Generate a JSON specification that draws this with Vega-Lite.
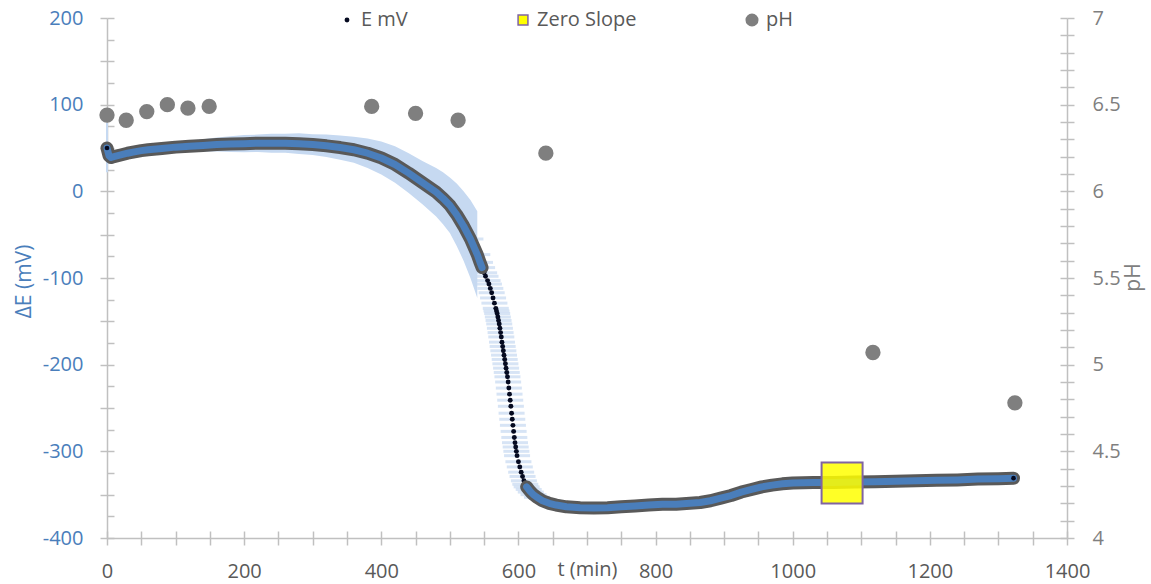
{
"$schema":"https://vega.github.io/schema/vega-lite/v6.json",
"width":960,"height":520,
"autosize":{"type":"none"},
"padding":{"left":107,"top":18,"right":84,"bottom":46},
"background":"white",
"config":{
 "font":"Open Sans",
 "view":{"stroke":null},
 "axis":{"grid":false,"domainColor":"#c0c0c0","domainWidth":1.5,"tickColor":"#c0c0c0","tickWidth":1.5,"tickSize":7,"labelFont":"Open Sans","labelFontSize":20,"titleFont":"Open Sans","titleFontSize":20,"titleFontWeight":"normal","labelOverlap":false,"labelFlush":false,"labelBound":false}
},
"datasets":{
 "e":[
  {"t":0,"e":50,"lo":44,"hi":56,"barlo":22,"barhi":79},
  {"t":3,"e":41,"lo":35,"hi":47},
  {"t":6,"e":39,"lo":33,"hi":45},
  {"t":10,"e":40,"lo":34,"hi":46},
  {"t":20,"e":42,"lo":36,"hi":48},
  {"t":30,"e":44,"lo":38,"hi":50},
  {"t":40,"e":45.5,"lo":39.5,"hi":51.5},
  {"t":50,"e":47,"lo":41,"hi":53},
  {"t":60,"e":48,"lo":42,"hi":54},
  {"t":80,"e":49.5,"lo":43.5,"hi":55.5},
  {"t":100,"e":51,"lo":45,"hi":57},
  {"t":120,"e":52,"lo":45.5,"hi":58.5},
  {"t":140,"e":53,"lo":46,"hi":60},
  {"t":160,"e":54,"lo":46,"hi":62},
  {"t":180,"e":54.5,"lo":45.5,"hi":63.5},
  {"t":200,"e":55,"lo":45,"hi":65},
  {"t":220,"e":55.5,"lo":45.5,"hi":65.5},
  {"t":240,"e":55.5,"lo":44.5,"hi":66.5},
  {"t":260,"e":55.5,"lo":44.5,"hi":66.5},
  {"t":280,"e":55,"lo":43,"hi":67},
  {"t":300,"e":54,"lo":42,"hi":66},
  {"t":320,"e":52.5,"lo":39.5,"hi":65.5},
  {"t":340,"e":50.5,"lo":36.5,"hi":64.5},
  {"t":360,"e":48,"lo":33,"hi":63},
  {"t":380,"e":44,"lo":27,"hi":61},
  {"t":400,"e":38.5,"lo":19.5,"hi":57.5},
  {"t":420,"e":31,"lo":10,"hi":52},
  {"t":440,"e":21,"lo":-2,"hi":44},
  {"t":460,"e":10,"lo":-15,"hi":35},
  {"t":480,"e":-1,"lo":-29,"hi":27},
  {"t":490,"e":-8,"lo":-38,"hi":22},
  {"t":500,"e":-16,"lo":-48,"hi":16},
  {"t":510,"e":-27,"lo":-63,"hi":9},
  {"t":520,"e":-40,"lo":-80,"hi":0},
  {"t":530,"e":-55,"lo":-100,"hi":-10},
  {"t":540,"e":-73,"lo":-123,"hi":-23},
  {"t":544,"e":-82},{"t":547,"e":-88},{"t":550,"e":-94},{"t":552,"e":-98},{"t":555,"e":-103},
  {"t":557,"e":-107},{"t":559,"e":-112},{"t":561,"e":-117},{"t":563,"e":-123},{"t":565,"e":-129},
  {"t":567,"e":-135},{"t":568,"e":-138},{"t":569,"e":-141},{"t":570,"e":-145},{"t":571,"e":-149},
  {"t":572,"e":-153},{"t":573,"e":-158},{"t":574,"e":-163},{"t":575,"e":-168},{"t":576,"e":-174},
  {"t":577,"e":-179},{"t":578,"e":-184},{"t":579,"e":-189},{"t":580,"e":-194},{"t":581,"e":-199},
  {"t":582,"e":-204},{"t":583,"e":-209},{"t":584,"e":-214},{"t":585,"e":-220},{"t":586,"e":-227},
  {"t":587,"e":-234},{"t":588,"e":-241},{"t":589,"e":-248},{"t":590,"e":-256},{"t":591,"e":-263},
  {"t":592,"e":-270},{"t":593,"e":-277},{"t":594,"e":-284},{"t":595,"e":-290},{"t":596,"e":-295},
  {"t":597,"e":-300},{"t":598,"e":-305},{"t":600,"e":-312},{"t":602,"e":-318},{"t":604,"e":-324},
  {"t":606,"e":-329},{"t":608,"e":-334},{"t":610,"e":-338},{"t":612,"e":-341},{"t":615,"e":-344},
  {"t":618,"e":-347},{"t":622,"e":-350},{"t":627,"e":-353},{"t":635,"e":-357},{"t":645,"e":-360},
  {"t":655,"e":-362},{"t":670,"e":-364},{"t":690,"e":-365},{"t":710,"e":-365.5},{"t":730,"e":-365},
  {"t":750,"e":-364},{"t":770,"e":-363},{"t":790,"e":-362},{"t":810,"e":-361},{"t":830,"e":-361},
  {"t":850,"e":-360},{"t":865,"e":-359},{"t":880,"e":-357},{"t":895,"e":-354},{"t":910,"e":-351},
  {"t":925,"e":-347},{"t":940,"e":-344},{"t":955,"e":-341},{"t":970,"e":-339},{"t":985,"e":-337.5},
  {"t":1000,"e":-336.5},{"t":1030,"e":-336},{"t":1060,"e":-336},{"t":1090,"e":-335.5},{"t":1120,"e":-335},
  {"t":1150,"e":-334.5},{"t":1180,"e":-334},{"t":1210,"e":-333.5},{"t":1240,"e":-333},{"t":1270,"e":-332},
  {"t":1300,"e":-331.5},{"t":1322,"e":-331}
 ],
 "ph":[
  {"t":0,"ph":6.44},{"t":28,"ph":6.41},{"t":58,"ph":6.46},{"t":88,"ph":6.5},{"t":118,"ph":6.48},
  {"t":149,"ph":6.49},{"t":386,"ph":6.49},{"t":450,"ph":6.45},{"t":512,"ph":6.41},{"t":640,"ph":6.22},
  {"t":1117,"ph":5.07},{"t":1324,"ph":4.78}
 ],
 "zs":[{"t":1072,"e":-336.5}]
},
"layer":[
 {
  "data":{"name":"e"},
  "encoding":{"x":{"field":"t","type":"quantitative","title":"t (min)","scale":{"domain":[0,1400],"nice":false,"zero":false},
    "axis":{"orient":"bottom","values":[0,50,100,150,200,250,300,350,400,450,500,550,600,650,700,750,800,850,900,950,1000,1050,1100,1150,1200,1250,1300,1350,1400],
      "labelExpr":"datum.value % 200 === 0 ? '' + datum.value : ''","labelColor":"#595959","labelPadding":16,
      "titleColor":"#595959","titleX":480,"titleY":31,"titleAlign":"center","titleBaseline":"middle"}}},
  "layer":[
   {"transform":[{"filter":"datum.t <= 540"}],"mark":{"type":"area","color":"#c6d9f1"},
    "encoding":{"y":{"field":"lo","type":"quantitative","title":"ΔE  (mV)","scale":{"domain":[-400,200],"nice":false,"zero":false},
      "axis":{"orient":"left","values":[-400,-375,-350,-325,-300,-275,-250,-225,-200,-175,-150,-125,-100,-75,-50,-25,0,25,50,75,100,125,150,175,200],
        "labelExpr":"datum.value % 100 === 0 ? '' + datum.value : ''","labelColor":"#4a7ebb","labelPadding":17,
        "titleColor":"#4a7ebb","titleFontSize":21,"titleAngle":270,"titleX":-83,"titleY":263,"titleAlign":"center","titleBaseline":"middle"}},
     "y2":{"field":"hi"}}},
   {"transform":[{"filter":"datum.t == 0"}],"mark":{"type":"rule","color":"#c6d9f1","strokeWidth":2},
    "encoding":{"y":{"field":"barlo","type":"quantitative","title":"ΔE  (mV)"},"y2":{"field":"barhi"}}},
   {"transform":[{"filter":"datum.t >= 528 && datum.t <= 627"}],"mark":{"type":"tick","orient":"horizontal","color":"#c6d9f1","size":26,"thickness":3},
    "encoding":{"y":{"field":"e","type":"quantitative","title":"ΔE  (mV)"}}},
   {"mark":{"type":"point","filled":true,"opacity":1,"strokeWidth":1.5},
    "encoding":{"y":{"field":"e","type":"quantitative","title":"ΔE  (mV)"},
     "color":{"datum":"E mV","type":"nominal","scale":{"domain":["E mV","Zero Slope","pH"],"range":["#050a20","#ffff00","#7f7f7f"]},
      "legend":{"title":null,"orient":"none","legendX":230,"legendY":-8,"direction":"horizontal","columnPadding":105,"padding":0,
        "labelFont":"Open Sans","labelFontSize":20,"labelColor":"#595959","labelOffset":4,"symbolStrokeWidth":1.5,"symbolOpacity":1}},
     "shape":{"datum":"E mV","type":"nominal","scale":{"domain":["E mV","Zero Slope","pH"],"range":["circle","square","circle"]},"legend":{"title":null}},
     "size":{"datum":"E mV","type":"nominal","scale":{"domain":["E mV","Zero Slope","pH"],"range":[24,170,150]},"legend":{"title":null}},
     "stroke":{"datum":"E mV","type":"nominal","scale":{"domain":["E mV","Zero Slope","pH"],"range":["transparent","#8064a2","transparent"]},"legend":{"title":null}}}},
   {"transform":[{"filter":"datum.t <= 548"}],"mark":{"type":"line","color":"#595959","strokeWidth":13,"strokeCap":"round","strokeJoin":"round"},
    "encoding":{"y":{"field":"e","type":"quantitative","title":"ΔE  (mV)"}}},
   {"transform":[{"filter":"datum.t >= 612"}],"mark":{"type":"line","color":"#595959","strokeWidth":13,"strokeCap":"round","strokeJoin":"round"},
    "encoding":{"y":{"field":"e","type":"quantitative","title":"ΔE  (mV)"}}},
   {"transform":[{"filter":"datum.t <= 548"}],"mark":{"type":"line","color":"#4a7ebb","strokeWidth":7,"strokeCap":"round","strokeJoin":"round"},
    "encoding":{"y":{"field":"e","type":"quantitative","title":"ΔE  (mV)"}}},
   {"transform":[{"filter":"datum.t >= 612"}],"mark":{"type":"line","color":"#4a7ebb","strokeWidth":7,"strokeCap":"round","strokeJoin":"round"},
    "encoding":{"y":{"field":"e","type":"quantitative","title":"ΔE  (mV)"}}},
   {"transform":[{"filter":"datum.t == 0 || datum.t == 1322"}],"mark":{"type":"point","shape":"circle","filled":true,"size":22,"opacity":1,"color":"#050a20"},
    "encoding":{"y":{"field":"e","type":"quantitative","title":"ΔE  (mV)"}}},
   {"data":{"name":"zs"},"mark":{"type":"point","shape":"square","filled":true,"size":1681,"opacity":1,"fill":"#ffff00","fillOpacity":0.85,"stroke":"#8064a2","strokeWidth":2},
    "encoding":{"y":{"field":"e","type":"quantitative","title":"ΔE  (mV)"}}}
  ]
 },
 {
  "data":{"name":"ph"},
  "mark":{"type":"point","shape":"circle","filled":true,"size":235,"opacity":1,"color":"#7f7f7f"},
  "encoding":{
   "x":{"field":"t","type":"quantitative","scale":{"domain":[0,1400],"nice":false,"zero":false},"axis":null},
   "y":{"field":"ph","type":"quantitative","title":"pH","scale":{"domain":[4,7],"nice":false,"zero":false},
    "axis":{"orient":"right","values":[4,4.1,4.2,4.3,4.4,4.5,4.6,4.7,4.8,4.9,5,5.1,5.2,5.3,5.4,5.5,5.6,5.7,5.8,5.9,6,6.1,6.2,6.3,6.4,6.5,6.6,6.7,6.8,6.9,7],
     "labelExpr":"abs(datum.value*2 - round(datum.value*2)) < 0.001 ? format(datum.value, '~g') : ''","labelColor":"#7f7f7f","labelPadding":18,
     "titleColor":"#7f7f7f","titleFontSize":21,"titleAngle":270,"titleX":66,"titleY":259,"titleAlign":"center","titleBaseline":"middle"}}
  }
 },
 {
  "data":{"values":[{"a":0}]},
  "mark":{"type":"point","opacity":0},
  "encoding":{
   "x":{"datum":0,"type":"quantitative","scale":{"domain":[0,1400],"nice":false,"zero":false},
    "axis":{"orient":"bottom","values":[0,50,100,150,200,250,300,350,400,450,500,550,600,650,700,750,800,850,900,950,1000,1050,1100,1150,1200,1250,1300,1350,1400],"offset":-7,"domain":false,"labels":false,"title":null}},
   "y":{"datum":0,"type":"quantitative","scale":{"domain":[-400,200],"nice":false,"zero":false},
    "axis":{"orient":"left","values":[-400,-375,-350,-325,-300,-275,-250,-225,-200,-175,-150,-125,-100,-75,-50,-25,0,25,50,75,100,125,150,175,200],"offset":-7,"domain":false,"labels":false,"title":null}}
  }
 },
 {
  "data":{"values":[{"a":0}]},
  "mark":{"type":"point","opacity":0},
  "encoding":{
   "x":{"datum":0,"type":"quantitative","scale":{"domain":[0,1400],"nice":false,"zero":false},"axis":null},
   "y":{"datum":5,"type":"quantitative","scale":{"domain":[4,7],"nice":false,"zero":false},
    "axis":{"orient":"right","values":[4,4.1,4.2,4.3,4.4,4.5,4.6,4.7,4.8,4.9,5,5.1,5.2,5.3,5.4,5.5,5.6,5.7,5.8,5.9,6,6.1,6.2,6.3,6.4,6.5,6.6,6.7,6.8,6.9,7],"offset":-7,"domain":false,"labels":false,"title":null}}
  }
 }
],
"resolve":{"scale":{"y":"independent"},"axis":{"x":"independent","y":"independent"}}
}
